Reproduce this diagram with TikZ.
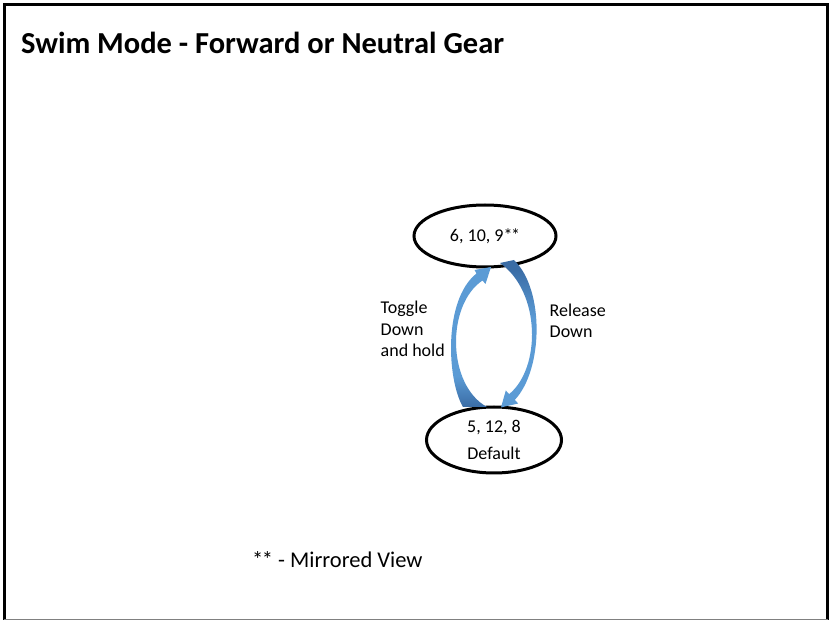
\documentclass[tikz,border=0pt]{standalone}
\usepackage{fontspec}
\setmainfont{Carlito}
\usetikzlibrary{shapes.geometric}
\definecolor{arrlight}{RGB}{91,155,213}
\definecolor{arrdark}{RGB}{58,108,165}
\pgfdeclareverticalshading{leftarrshade}{100bp}{color(0bp)=(arrdark); color(25bp)=(arrdark); color(36bp)=(arrlight); color(100bp)=(arrlight)}
\pgfdeclareverticalshading{rightarrshade}{100bp}{color(0bp)=(arrlight); color(55bp)=(arrlight); color(72bp)=(arrdark); color(100bp)=(arrdark)}
\newcommand{\dstar}{*\kern-1.5pt*}
\begin{document}
\begin{tikzpicture}[x=1pt,y=-1pt,
  state/.style={ellipse, draw=black, line width=3pt, inner sep=0pt, align=center,
                font=\fontsize{18}{27}\selectfont},
  lbl/.style={inner sep=0pt, align=left, font=\fontsize{18}{21.7}\selectfont},
  blockarrow/.style={draw=none},
  frame/.style={line width=3pt, line cap=rect}
]
\useasboundingbox (0,0) rectangle (831,620);
% frame
\draw[frame] (4.5,619) -- (4.5,5) -- (827,5) -- (827,618);
\draw[gray, line width=1pt] (4,619.2) -- (828,619.2);
% title
\node[anchor=base west, inner sep=0pt, font=\fontsize{30.5}{36}\selectfont\bfseries] (title) at (21,54)
  {Swim Mode - Forward or Neutral Gear};
% states
\node[state, minimum width=142pt, minimum height=62pt] (top) at (485,236) {6, 10, 9\dstar};
\node[state, minimum width=135pt, minimum height=66pt] (bot) at (494,440) {5, 12, 8\\Default};
% curved block arrows
\shade[blockarrow, shading=leftarrshade]
  (463,407) .. controls (447,380) and (443,300) .. (476.5,273.5)
  -- (474.5,270) -- (491,267) -- (485.5,284) -- (482.5,280.5)
  .. controls (446,305) and (447,385) .. (487,407) -- cycle;
\shade[blockarrow, shading=rightarrshade]
  (500,263) -- (514,260) .. controls (545,290) and (543,370) .. (514.8,399.9)
  -- (518.2,403.5) -- (501,407.4) -- (505.8,390.5) -- (509.2,394.1)
  .. controls (541,368) and (541,292) .. (500,263) -- cycle;
% labels
\node[lbl, anchor=base west] (toggle) at (380.5,357) {Toggle\\Down\\and hold};
\node[lbl, anchor=base west] (release) at (549.5,338) {Release\\Down};
\node[anchor=base west, inner sep=0pt, font=\fontsize{22.5}{27}\selectfont] (note) at (252,567)
  {\dstar{} - Mirrored View};
\end{tikzpicture}
\end{document}
